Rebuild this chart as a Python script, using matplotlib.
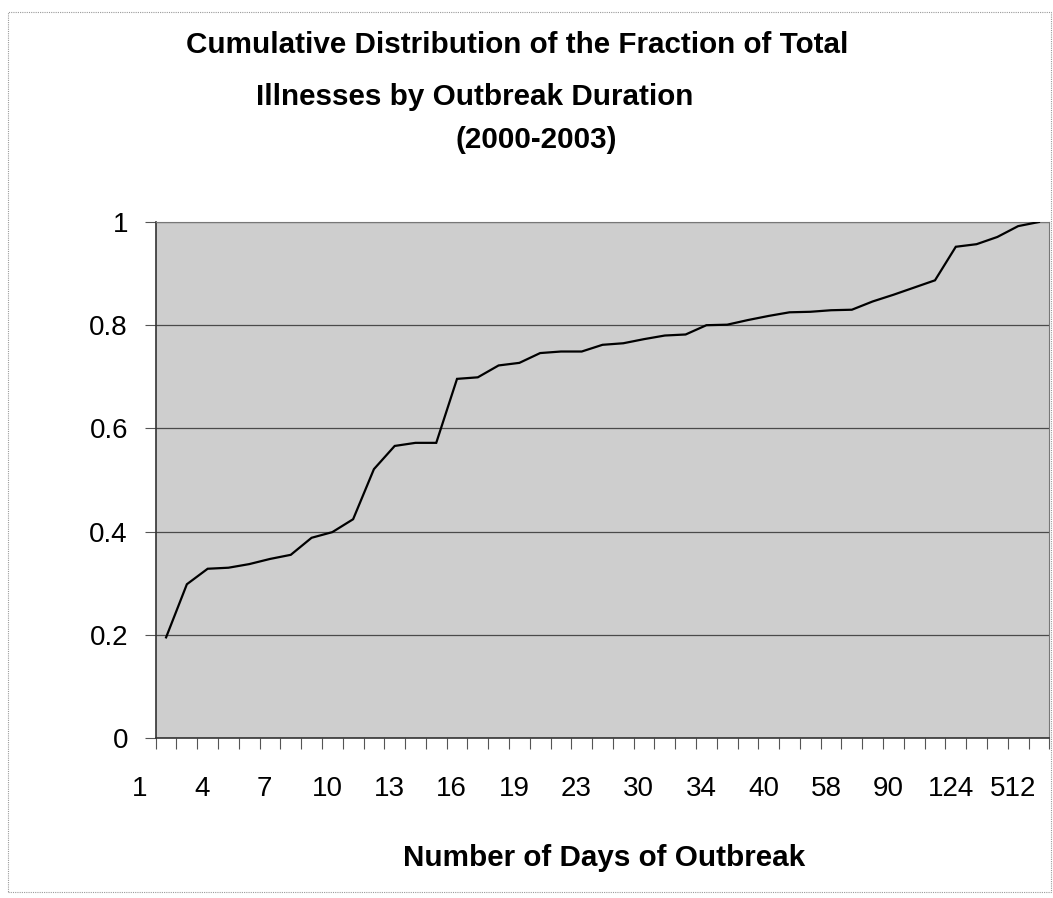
import matplotlib
matplotlib.use("Agg")
import matplotlib.pyplot as plt
import matplotlib.transforms as mtransforms
from matplotlib.patches import Rectangle

plt.rcParams['font.family'] = ['Liberation Sans', 'DejaVu Sans']

# ---- data ----
cum_fraction = [0.195, 0.298, 0.328, 0.330, 0.337, 0.347, 0.355, 0.388, 0.399, 0.424,
                0.521, 0.566, 0.572, 0.572, 0.696, 0.699, 0.722, 0.727, 0.746, 0.749,
                0.749, 0.762, 0.765, 0.773, 0.780, 0.782, 0.800, 0.801, 0.810, 0.818,
                0.825, 0.826, 0.829, 0.830, 0.846, 0.859, 0.873, 0.887, 0.952, 0.957,
                0.971, 0.992, 1.000]
x_tick_labels = ['1', '4', '7', '10', '13', '16', '19', '23', '30', '34', '40',
                 '58', '90', '124', '512']
y_ticks = [0, 0.2, 0.4, 0.6, 0.8, 1.0]
y_tick_labels = ['0', '0.2', '0.4', '0.6', '0.8', '1']
title_lines = ['Cumulative Distribution of the Fraction of Total',
               'Illnesses by Outbreak Duration',
               '(2000-2003)']
x_label = 'Number of Days of Outbreak'

W, H = 1053, 898
fig = plt.figure(figsize=(W / 100, H / 100), dpi=100)
fig.patch.set_facecolor('white')

# outer chart border
fig.patches.append(Rectangle((8 / W, 6 / H), 1043 / W, (H - 18) / H,
                             transform=fig.transFigure, fill=False,
                             edgecolor='#9a9a9a', lw=0.8, ls=(0, (1, 1))))

left, right, top, bottom = 155.7, 1049.3, 222, 738
ax = fig.add_axes([left / W, 1 - bottom / H, (right - left) / W, (bottom - top) / H])
ax.set_facecolor('#cecece')

n = len(cum_fraction)
xs = [i + 0.5 for i in range(n)]
ax.plot(xs, cum_fraction, color='black', lw=1.6, solid_joinstyle='miter', zorder=3)

ax.set_xlim(0, n)
ax.set_ylim(0, 1)

# gridlines
ax.set_yticks(y_ticks)
ax.set_yticklabels(y_tick_labels, fontsize=20)
ax.yaxis.grid(True, color='#4a4a4a', lw=0.9)
ax.set_axisbelow(True)
ax.tick_params(axis='y', direction='out', length=8, width=0.8, color='#555555', pad=12)

# category tick marks at boundaries
ax.set_xticks(range(n + 1), minor=True)
ax.tick_params(axis='x', which='minor', direction='out', length=8, width=0.8, color='#555555')
label_pos = [3 * k + 0.5 for k in range(len(x_tick_labels))]
ax.set_xticks(label_pos)
ax.set_xticklabels(x_tick_labels, fontsize=20)
ax.tick_params(axis='x', which='major', length=0, pad=27)
offset = mtransforms.ScaledTranslation(-0.26, 0, fig.dpi_scale_trans)
for lab in ax.get_xticklabels():
    lab.set_transform(lab.get_transform() + offset)

for s in ['left', 'bottom']:
    ax.spines[s].set_color('#333333')
    ax.spines[s].set_linewidth(1.2)
for s in ['top', 'right']:
    ax.spines[s].set_color('#777777')
    ax.spines[s].set_linewidth(0.8)

# titles
fs = 21.3
fig.text(517.5 / W, 1 - 53.3 / H, title_lines[0], ha='center', va='baseline',
         fontsize=fs, fontweight='bold')
fig.text(475 / W, 1 - 105 / H, title_lines[1], ha='center', va='baseline',
         fontsize=fs, fontweight='bold')
fig.text(536.7 / W, 1 - 148 / H, title_lines[2], ha='center', va='baseline',
         fontsize=fs, fontweight='bold')
fig.text(604 / W, 1 - 865.7 / H, x_label, ha='center', va='baseline',
         fontsize=fs, fontweight='bold')

fig.savefig('out.png', dpi=100)
